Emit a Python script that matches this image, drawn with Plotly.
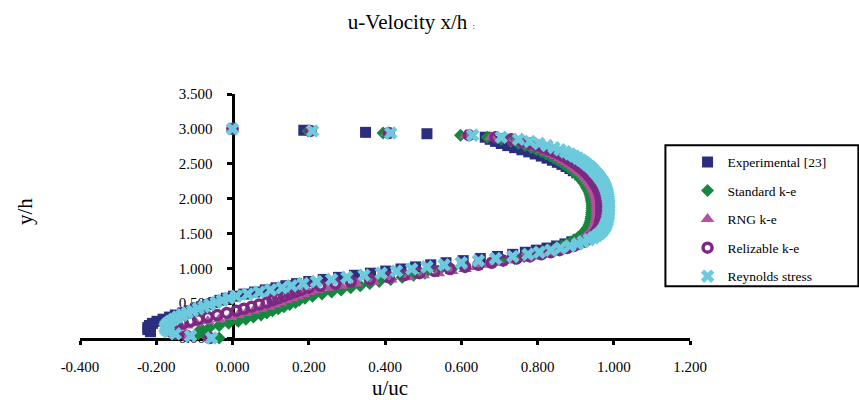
import plotly.graph_objects as go

# ---- data -----------------------------------------------------------------
# sampling heights used by the CFD runs (y/h)
y_cfd = [
    0.00, 0.03, 0.06, 0.09, 0.12, 0.15, 0.18, 0.21, 0.24, 0.27,
    0.30, 0.33, 0.36, 0.39, 0.42, 0.45, 0.48, 0.51, 0.54, 0.57,
    0.60, 0.63, 0.66, 0.69, 0.72, 0.75, 0.78, 0.81, 0.84, 0.87,
    0.90, 0.93, 0.96, 0.99, 1.02, 1.05, 1.08, 1.11, 1.14, 1.17,
    1.20, 1.23, 1.26, 1.29, 1.32, 1.35, 1.38, 1.41, 1.44, 1.47,
    1.50, 1.53, 1.56, 1.59, 1.62, 1.65, 1.68, 1.71, 1.74, 1.77,
    1.80, 1.83, 1.86, 1.89, 1.92, 1.95, 1.98, 2.01, 2.04, 2.07,
    2.10, 2.13, 2.16, 2.19, 2.22, 2.25, 2.28, 2.31, 2.34, 2.37,
    2.40, 2.43, 2.46, 2.49, 2.52, 2.55, 2.58, 2.61, 2.64, 2.67,
    2.70, 2.73, 2.76, 2.79, 2.82, 2.85, 2.88, 2.91, 2.94, 2.97,
    3.00,
]

u_standard = [
    -0.035, -0.07, -0.09, -0.09, -0.08, -0.06, -0.035, -0.01, 0.015, 0.035,
    0.055, 0.075, 0.09, 0.105, 0.12, 0.135, 0.15, 0.165, 0.175, 0.19,
    0.21, 0.235, 0.26, 0.285, 0.31, 0.335, 0.36, 0.385, 0.415, 0.445,
    0.475, 0.505, 0.54, 0.575, 0.61, 0.645, 0.68, 0.71, 0.74, 0.765,
    0.79, 0.81, 0.83, 0.848, 0.864, 0.877, 0.888, 0.898, 0.906, 0.913,
    0.919, 0.924, 0.928, 0.932, 0.935, 0.937, 0.939, 0.94, 0.941, 0.942,
    0.942, 0.943, 0.943, 0.943, 0.943, 0.942, 0.941, 0.94, 0.939, 0.937,
    0.935, 0.932, 0.929, 0.926, 0.922, 0.918, 0.914, 0.909, 0.904, 0.898,
    0.892, 0.885, 0.878, 0.87, 0.862, 0.853, 0.843, 0.833, 0.822, 0.81,
    0.797, 0.783, 0.767, 0.75, 0.73, 0.705, 0.668, 0.598, 0.395, 0.198,
    0.0,
]

u_rng = [
    -0.06, -0.115, -0.14, -0.148, -0.145, -0.135, -0.12, -0.095, -0.065, -0.035,
    -0.005, 0.015, 0.035, 0.055, 0.075, 0.095, 0.11, 0.125, 0.14, 0.155,
    0.17, 0.185, 0.20, 0.22, 0.25, 0.285, 0.325, 0.37, 0.415, 0.46,
    0.50, 0.54, 0.575, 0.61, 0.64, 0.67, 0.70, 0.73, 0.76, 0.785,
    0.81, 0.83, 0.85, 0.868, 0.883, 0.896, 0.907, 0.916, 0.924, 0.93,
    0.936, 0.941, 0.945, 0.948, 0.95, 0.952, 0.954, 0.955, 0.956, 0.957,
    0.957, 0.957, 0.957, 0.957, 0.957, 0.957, 0.956, 0.955, 0.954, 0.952,
    0.95, 0.947, 0.944, 0.941, 0.937, 0.933, 0.929, 0.924, 0.919, 0.913,
    0.907, 0.90, 0.893, 0.885, 0.877, 0.868, 0.858, 0.848, 0.837, 0.825,
    0.812, 0.797, 0.781, 0.763, 0.742, 0.716, 0.678, 0.612, 0.405, 0.205,
    0.0,
]

u_realizable = [
    -0.06, -0.12, -0.15, -0.16, -0.16, -0.155, -0.145, -0.13, -0.11, -0.09,
    -0.065, -0.04, -0.015, 0.01, 0.03, 0.05, 0.07, 0.09, 0.105, 0.12,
    0.135, 0.15, 0.165, 0.18, 0.20, 0.23, 0.27, 0.31, 0.36, 0.41,
    0.45, 0.49, 0.53, 0.57, 0.61, 0.645, 0.68, 0.71, 0.745, 0.78,
    0.81, 0.835, 0.858, 0.878, 0.895, 0.909, 0.921, 0.931, 0.939, 0.946,
    0.951, 0.955, 0.958, 0.961, 0.963, 0.964, 0.965, 0.966, 0.967, 0.968,
    0.968, 0.968, 0.968, 0.968, 0.968, 0.968, 0.967, 0.966, 0.965, 0.963,
    0.961, 0.959, 0.956, 0.953, 0.95, 0.946, 0.942, 0.938, 0.933, 0.928,
    0.922, 0.916, 0.909, 0.902, 0.894, 0.886, 0.877, 0.867, 0.856, 0.844,
    0.831, 0.816, 0.80, 0.781, 0.759, 0.731, 0.69, 0.62, 0.41, 0.205,
    0.0,
]

u_reynolds = [
    -0.055, -0.11, -0.15, -0.168, -0.175, -0.177, -0.175, -0.17, -0.163, -0.154,
    -0.144, -0.132, -0.119, -0.105, -0.09, -0.075, -0.06, -0.043, -0.027, -0.01,
    0.01, 0.04, 0.07, 0.10, 0.13, 0.155, 0.185, 0.22, 0.26, 0.30,
    0.345, 0.39, 0.43, 0.47, 0.51, 0.555, 0.60, 0.645, 0.69, 0.735,
    0.775, 0.805, 0.835, 0.86, 0.885, 0.905, 0.92, 0.935, 0.947, 0.956,
    0.963, 0.969, 0.973, 0.977, 0.979, 0.981, 0.983, 0.984, 0.985, 0.986,
    0.986, 0.987, 0.987, 0.987, 0.987, 0.986, 0.986, 0.985, 0.984, 0.983,
    0.982, 0.98, 0.978, 0.976, 0.973, 0.97, 0.966, 0.962, 0.958, 0.953,
    0.948, 0.943, 0.937, 0.93, 0.923, 0.915, 0.906, 0.896, 0.885, 0.873,
    0.859, 0.843, 0.825, 0.804, 0.78, 0.75, 0.705, 0.63, 0.415, 0.21,
    0.0,
]

# measurements
y_exp = [
    0.09, 0.12, 0.15, 0.18, 0.21, 0.24, 0.27, 0.30, 0.33, 0.36,
    0.39, 0.42, 0.45, 0.48, 0.51, 0.54, 0.57, 0.60, 0.63, 0.66,
    0.69, 0.72, 0.75, 0.78, 0.81, 0.84, 0.87, 0.90, 0.93, 0.96,
    0.99, 1.02, 1.05, 1.08, 1.11, 1.14, 1.17, 1.20, 1.23, 1.26,
    1.29, 1.32, 1.35, 1.38, 1.41, 1.44, 1.47, 1.50, 1.53, 1.56,
    1.59, 1.62, 1.65, 1.68, 1.71, 1.74, 1.77, 1.80, 1.83, 1.86,
    1.89, 1.92, 1.95, 1.98, 2.01, 2.04, 2.07, 2.10, 2.13, 2.16,
    2.19, 2.22, 2.25, 2.28, 2.31, 2.34, 2.37, 2.40, 2.43, 2.46,
    2.49, 2.52, 2.55, 2.58, 2.61, 2.64, 2.67, 2.70, 2.73, 2.76,
    2.79, 2.82, 2.85, 2.88, 2.93, 2.95, 2.98,
]
u_exp = [
    -0.215, -0.222, -0.222, -0.218, -0.21, -0.198, -0.182, -0.165, -0.15, -0.13,
    -0.113, -0.097, -0.081, -0.065, -0.049, -0.033, -0.016, 0.003, 0.03, 0.058,
    0.086, 0.114, 0.14, 0.168, 0.20, 0.238, 0.278, 0.32, 0.362, 0.402,
    0.442, 0.48, 0.52, 0.56, 0.605, 0.65, 0.695, 0.735, 0.768, 0.797,
    0.825, 0.85, 0.872, 0.89, 0.906, 0.92, 0.93, 0.94, 0.946, 0.95,
    0.953, 0.955, 0.957, 0.958, 0.959, 0.96, 0.96, 0.96, 0.96, 0.96,
    0.96, 0.96, 0.96, 0.96, 0.959, 0.957, 0.955, 0.952, 0.949, 0.945,
    0.941, 0.936, 0.931, 0.925, 0.918, 0.911, 0.903, 0.894, 0.885, 0.875,
    0.864, 0.852, 0.839, 0.825, 0.81, 0.794, 0.777, 0.759, 0.74, 0.722,
    0.705, 0.69, 0.676, 0.663, 0.51, 0.349, 0.187,
]

x_ticks = [-0.4, -0.2, 0.0, 0.2, 0.4, 0.6, 0.8, 1.0, 1.2]
x_tick_labels = ["-0.400", "-0.200", "0.000", "0.200", "0.400",
                 "0.600", "0.800", "1.000", "1.200"]
y_ticks = [0.0, 0.5, 1.0, 1.5, 2.0, 2.5, 3.0, 3.5]
y_tick_labels = ["0.000", "0.500", "1.000", "1.500", "2.000",
                 "2.500", "3.000", "3.500"]

# ---- figure ---------------------------------------------------------------
SERIF = "Liberation Serif, Times New Roman, serif"

fig = go.Figure()

series = [
    ("Experimental [23]", u_exp, y_exp,
     dict(symbol="square", size=11, color="#2b2e7e")),
    ("Standard k-e", u_standard, y_cfd,
     dict(symbol="diamond", size=10, color="#16873f")),
    ("RNG k-e", u_rng, y_cfd,
     dict(symbol="triangle-up", size=12, color="#b8519f")),
    ("Relizable k-e", u_realizable, y_cfd,
     dict(symbol="circle-open", size=9, color="#7b2a83", line=dict(width=3.5))),
    ("Reynolds stress", u_reynolds, y_cfd,
     dict(symbol="x", size=12, color="#6ccadc", line=dict(width=0))),
]

for name, u, y, marker in series:
    fig.add_trace(go.Scatter(
        x=u, y=y, mode="markers", name=name, legendgroup=name,
        marker=marker, cliponaxis=False,
    ))

axis_common = dict(
    showline=True, linecolor="black", linewidth=3,
    ticks="outside", tickcolor="black", tickwidth=2.5,
    showgrid=False, zeroline=False,
    tickfont=dict(family=SERIF, size=15, color="black"),
    layer="below traces", fixedrange=True,
)

fig.update_layout(
    width=859, height=400,
    margin=dict(l=80, r=169, t=94, b=62),
    paper_bgcolor="white", plot_bgcolor="white",
    font=dict(family=SERIF, color="black"),
    title=dict(
        text="u-Velocity x/h <span style='font-size:9px'>:</span>",
        x=0.479, xref="container", xanchor="center",
        y=0.945, yref="container", yanchor="middle",
        font=dict(family=SERIF, size=21, color="black"),
    ),
    xaxis=dict(range=[-0.4, 1.2], tickvals=x_ticks, ticktext=x_tick_labels,
               ticklen=4, ticklabelstandoff=9, **axis_common),
    yaxis=dict(range=[0, 3.5], tickvals=y_ticks, ticktext=y_tick_labels,
               anchor="free", position=0.25,
               ticklen=5, ticklabelstandoff=11, **axis_common),
    showlegend=True,
    legend=dict(
        x=0.996, xanchor="left", y=0.784, yanchor="top",
        bgcolor="rgba(0,0,0,0)", borderwidth=0,
        font=dict(family=SERIF, size=13.5, color="black"),
        traceorder="grouped", tracegroupgap=8,
    ),
    annotations=[
        dict(text="u/uc", xref="paper", yref="paper", x=0.5085, y=-0.205,
             xanchor="center", yanchor="middle", showarrow=False,
             font=dict(family=SERIF, size=21, color="black")),
        dict(text="y/h", xref="paper", yref="paper", x=-0.091, y=0.518,
             xanchor="center", yanchor="middle", showarrow=False,
             textangle=-90, font=dict(family=SERIF, size=21, color="black")),
    ],
    shapes=[
        dict(type="rect", xref="paper", yref="paper",
             x0=0.9597, x1=1.276, y0=0.212, y1=0.79,
             line=dict(color="black", width=2), fillcolor="white",
             layer="below"),
    ],
)

fig.write_html("out.html")
